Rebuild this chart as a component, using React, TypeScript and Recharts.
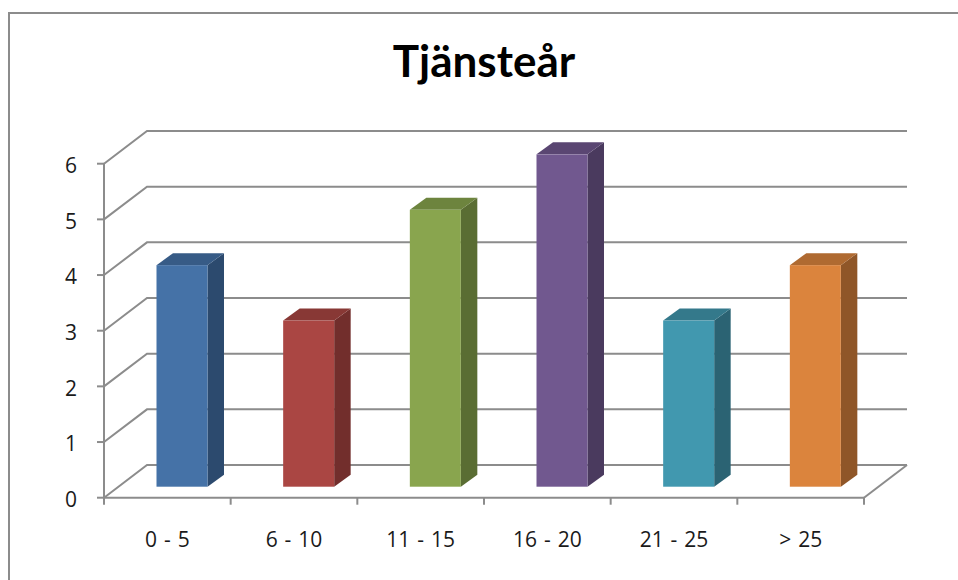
import React from 'react'
import { BarChart, Bar, XAxis, YAxis, CartesianGrid } from 'recharts'

const categories = ['0 - 5', '6 - 10', '11 - 15', '16 - 20', '21 - 25', '> 25']
const counts = [4, 3, 5, 6, 3, 4]
const yTicks = [0, 1, 2, 3, 4, 5, 6]

const frontColors = ['#4572a7', '#aa4643', '#89a54e', '#71588f', '#4198af', '#db843d']
const sideColors = ['#2c4a6e', '#722e2c', '#5a6d33', '#4a3a5e', '#2b6373', '#8f5628']
const topColors = ['#375b86', '#883835', '#6d843e', '#5a4672', '#34798b', '#af6a31']

const data = categories.map((c, i) => ({ name: c, value: counts[i] }))

const W = 958
const H = 580
// front plane of the plot (axes sit here)
const PLOT_LEFT = 104
const PLOT_RIGHT = 864
const PLOT_TOP = 163.7
const PLOT_BOTTOM = 497.7
const BAND = (PLOT_RIGHT - PLOT_LEFT) / categories.length

const Y_AXIS_W = 60
const X_AXIS_H = 60

// depth offsets
const WALL_DX = 43, WALL_DY = -32.7
const BAR_DX = 14.5, BAR_DY = -11
const DEPTH_X = 16.5, DEPTH_Y = -12

const GRID = '#8c8c8c'
const FONT = '"Open Sans", sans-serif'

function WallLine(p: any) {
  const { x1, y1, x2, y2 } = p
  const pts = `${x1},${y1} ${x1 + WALL_DX},${y1 + WALL_DY} ${x2 + WALL_DX},${y2 + WALL_DY}`
  const isFloor = Math.abs(y1 - PLOT_BOTTOM) < 0.5
  return (
    <g key={p.key}>
      <polyline points={pts} fill="none" stroke={GRID} strokeWidth={2} />
      {isFloor && (
        <line x1={x2} y1={y2} x2={x2 + WALL_DX} y2={y2 + WALL_DY} stroke={GRID} strokeWidth={2} />
      )}
    </g>
  )
}

function Bar3D(props: any) {
  const { x, y, width, height, index } = props
  if (height == null || height <= 0) return null
  const fx = x + BAR_DX
  const bottom = y + height + BAR_DY
  // bars stand a little deeper than the axis plane, so they come out a touch shorter
  const fy = bottom - height * 0.995
  const side = `${fx + width},${fy} ${fx + width + DEPTH_X},${fy + DEPTH_Y} ${fx + width + DEPTH_X},${bottom + DEPTH_Y} ${fx + width},${bottom}`
  const top = `${fx},${fy} ${fx + DEPTH_X},${fy + DEPTH_Y} ${fx + width + DEPTH_X},${fy + DEPTH_Y} ${fx + width},${fy}`
  return (
    <g>
      <polygon points={side} fill={sideColors[index]} />
      <polygon points={top} fill={topColors[index]} />
      <rect x={fx} y={fy} width={width} height={bottom - fy} fill={frontColors[index]} />
    </g>
  )
}

function XTick(props: any) {
  const { x, payload, index } = props
  const half = BAND / 2
  const last = index === categories.length - 1
  return (
    <g>
      <line x1={x - half} x2={x - half} y1={PLOT_BOTTOM} y2={PLOT_BOTTOM + 7} stroke={GRID} strokeWidth={2} />
      {last && <line x1={x + half} x2={x + half} y1={PLOT_BOTTOM} y2={PLOT_BOTTOM + 7} stroke={GRID} strokeWidth={2} />}
      <text x={x} y={PLOT_BOTTOM + 49} textAnchor="middle" fontSize={21} fontFamily={FONT} fill="#1a1a1a" wordSpacing={1.5}>
        {payload.value}
      </text>
    </g>
  )
}

export default function App() {
  return (
    <div style={{ position: 'absolute', left: 0, top: 0, width: W, height: H, overflow: 'hidden', background: '#fff' }}>
      <div style={{ position: 'absolute', left: 8, top: 12, width: 2000, height: 2000, border: '2px solid #8c8c8c', boxSizing: 'border-box' }} />
      <div style={{
        position: 'absolute', left: 0, top: 38, width: 968, textAlign: 'center',
        fontFamily: 'Lato, sans-serif', fontWeight: 700, fontSize: 44, lineHeight: '44px', color: '#000',
      }}>
        Tjänsteår
      </div>
      <div style={{ position: 'absolute', left: 0, top: 0 }}>
        <BarChart
          width={W}
          height={H}
          data={data}
          barSize={51}
          margin={{ top: PLOT_TOP, right: W - PLOT_RIGHT, left: PLOT_LEFT - Y_AXIS_W, bottom: H - PLOT_BOTTOM - X_AXIS_H }}
        >
          <CartesianGrid vertical={false} horizontal={WallLine} />
          <XAxis
            dataKey="name"
            height={X_AXIS_H}
            axisLine={{ stroke: GRID, strokeWidth: 2 }}
            tickLine={false}
            tick={XTick}
            interval={0}
          />
          <YAxis
            width={Y_AXIS_W}
            domain={[0, 6]}
            ticks={yTicks}
            interval={0}
            axisLine={{ stroke: GRID, strokeWidth: 2 }}
            tickLine={{ stroke: GRID, strokeWidth: 2 }}
            tickSize={7}
            tickMargin={20}
            tick={{ fill: '#1a1a1a', fontSize: 21, fontFamily: FONT, dy: 2 }}
          />
          <Bar dataKey="value" shape={Bar3D} isAnimationActive={false} />
        </BarChart>
      </div>
    </div>
  )
}
